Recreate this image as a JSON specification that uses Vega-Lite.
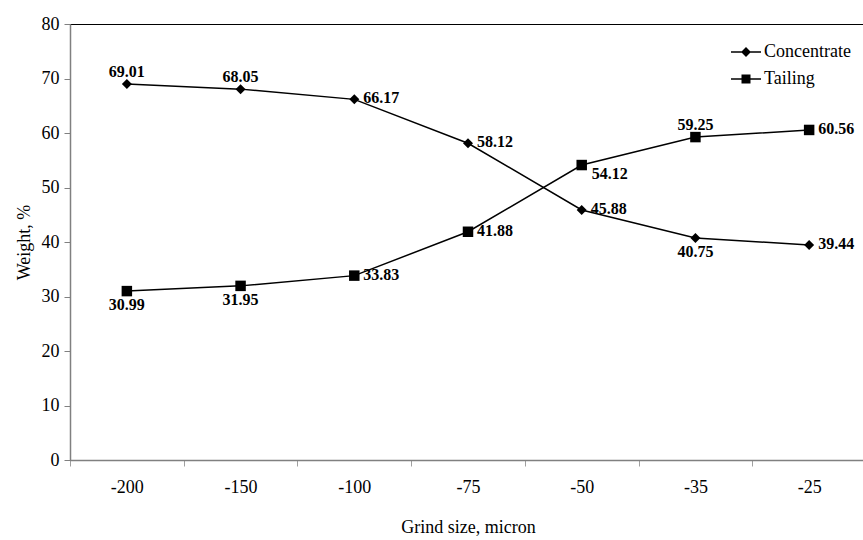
{
  "$schema": "https://vega.github.io/schema/vega-lite/v6.json",
  "width": 796,
  "height": 436,
  "autosize": {"type": "none"},
  "padding": {"left": 70, "top": 24, "right": 0, "bottom": 80},
  "background": "white",
  "config": {
    "view": {"stroke": "black", "strokeWidth": 1},
    "font": "Liberation Serif"
  },
  "data": {
    "values": [
      {"grind": "-200", "series": "Concentrate", "value": 69.01},
      {"grind": "-150", "series": "Concentrate", "value": 68.05},
      {"grind": "-100", "series": "Concentrate", "value": 66.17},
      {"grind": "-75", "series": "Concentrate", "value": 58.12},
      {"grind": "-50", "series": "Concentrate", "value": 45.88},
      {"grind": "-35", "series": "Concentrate", "value": 40.75},
      {"grind": "-25", "series": "Concentrate", "value": 39.44},
      {"grind": "-200", "series": "Tailing", "value": 30.99},
      {"grind": "-150", "series": "Tailing", "value": 31.95},
      {"grind": "-100", "series": "Tailing", "value": 33.83},
      {"grind": "-75", "series": "Tailing", "value": 41.88},
      {"grind": "-50", "series": "Tailing", "value": 54.12},
      {"grind": "-35", "series": "Tailing", "value": 59.25},
      {"grind": "-25", "series": "Tailing", "value": 60.56}
    ]
  },
  "encoding": {
    "x": {
      "field": "grind",
      "type": "ordinal",
      "sort": ["-200", "-150", "-100", "-75", "-50", "-35", "-25"],
      "scale": {"type": "band", "paddingInner": 0, "paddingOuter": 0},
      "axis": {
        "title": "Grind size, micron",
        "tickBand": "extent",
        "labelAngle": 0,
        "domainColor": "#808080",
        "domainWidth": 1.5,
        "tickColor": "#a0a0a0",
        "tickSize": 6,
        "labelPadding": 12,
        "labelFont": "Liberation Serif",
        "labelFontSize": 18,
        "labelColor": "black",
        "titleFont": "Liberation Serif",
        "titleFontSize": 18,
        "titleFontWeight": "normal",
        "titleColor": "black",
        "titlePadding": 22
      }
    },
    "y": {
      "field": "value",
      "type": "quantitative",
      "scale": {"domain": [0, 80], "nice": false},
      "axis": {
        "title": "Weight, %",
        "values": [0, 10, 20, 30, 40, 50, 60, 70, 80],
        "grid": false,
        "domainColor": "#808080",
        "domainWidth": 1.5,
        "tickColor": "#808080",
        "tickSize": 6,
        "labelPadding": 5,
        "labelFont": "Liberation Serif",
        "labelFontSize": 18,
        "labelColor": "black",
        "titleFont": "Liberation Serif",
        "titleFontSize": 18,
        "titleFontWeight": "normal",
        "titleColor": "black",
        "titlePadding": 8
      }
    }
  },
  "layer": [
    {
      "mark": {"type": "line", "color": "black", "strokeWidth": 1.5},
      "encoding": {"detail": {"field": "series"}}
    },
    {
      "transform": [{"filter": "datum.series == 'Concentrate'"}],
      "mark": {"type": "point", "shape": "diamond", "filled": true, "color": "black", "size": 100, "opacity": 1}
    },
    {
      "transform": [{"filter": "datum.series == 'Tailing'"}],
      "mark": {"type": "point", "shape": "square", "filled": true, "color": "black", "size": 110, "opacity": 1}
    },
    {
      "mark": {"type": "point", "filled": true, "color": "black", "opacity": 0},
      "encoding": {
        "shape": {
          "field": "series",
          "type": "nominal",
          "scale": {
            "domain": ["Concentrate", "Tailing"],
            "range": [
              "M-1,-0.05L1,-0.05L1,0.05L-1,0.05ZM-0.33,0L0,-0.33L0.33,0L0,0.33Z",
              "M-1,-0.05L1,-0.05L1,0.05L-1,0.05ZM-0.3,-0.3L0.3,-0.3L0.3,0.3L-0.3,0.3Z"
            ]
          },
          "legend": {
            "title": null,
            "orient": "none",
            "legendX": 660,
            "legendY": 12,
            "padding": 0,
            "symbolSize": 900,
            "symbolFillColor": "black",
            "symbolOpacity": 1,
            "labelFont": "Liberation Serif",
            "labelFontSize": 18,
            "labelColor": "black",
            "labelOffset": 2,
            "rowPadding": 2,
            "encode": {
              "symbols": {
                "fill": {"value": "black"},
                "opacity": {"value": 1}
              }
            }
          }
        }
      }
    },
    {
      "transform": [{"filter": "(datum.series == 'Concentrate' && (datum.grind == '-200' || datum.grind == '-150')) || (datum.series == 'Tailing' && datum.grind == '-35')"}],
      "mark": {"type": "text", "font": "Liberation Serif", "fontWeight": "bold", "fontSize": 16, "color": "black", "align": "center", "baseline": "middle", "dy": -12},
      "encoding": {"text": {"field": "value", "type": "quantitative", "format": ".2f"}}
    },
    {
      "transform": [{"filter": "(datum.series == 'Concentrate' && datum.grind == '-35') || (datum.series == 'Tailing' && (datum.grind == '-200' || datum.grind == '-150'))"}],
      "mark": {"type": "text", "font": "Liberation Serif", "fontWeight": "bold", "fontSize": 16, "color": "black", "align": "center", "baseline": "middle", "dy": 14},
      "encoding": {"text": {"field": "value", "type": "quantitative", "format": ".2f"}}
    },
    {
      "transform": [{"filter": "datum.series == 'Tailing' && datum.grind == '-50'"}],
      "mark": {"type": "text", "font": "Liberation Serif", "fontWeight": "bold", "fontSize": 16, "color": "black", "align": "left", "baseline": "middle", "dx": 10, "dy": 9},
      "encoding": {"text": {"field": "value", "type": "quantitative", "format": ".2f"}}
    },
    {
      "transform": [{"filter": "(datum.series == 'Concentrate' && (datum.grind == '-100' || datum.grind == '-75' || datum.grind == '-50' || datum.grind == '-25')) || (datum.series == 'Tailing' && (datum.grind == '-100' || datum.grind == '-75' || datum.grind == '-25'))"}],
      "mark": {"type": "text", "font": "Liberation Serif", "fontWeight": "bold", "fontSize": 16, "color": "black", "align": "left", "baseline": "middle", "dx": 9, "dy": -1},
      "encoding": {"text": {"field": "value", "type": "quantitative", "format": ".2f"}}
    }
  ]
}
